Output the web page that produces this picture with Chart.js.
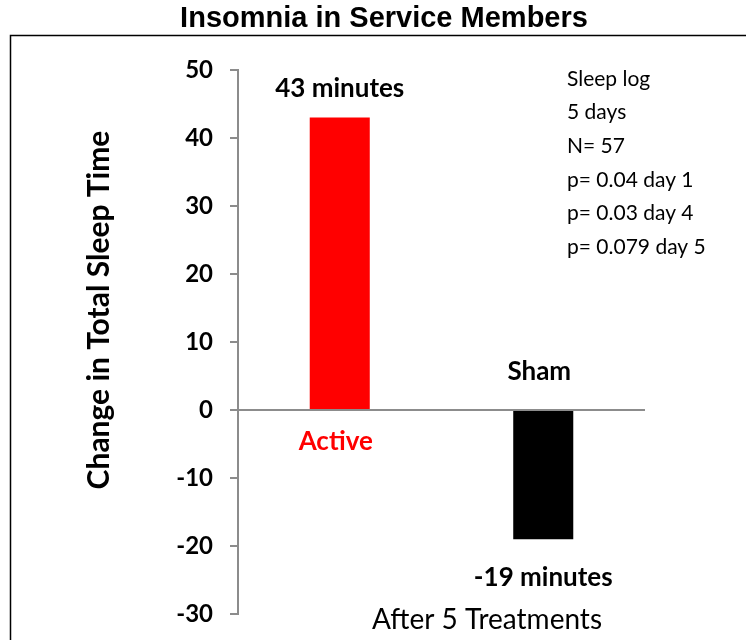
<!DOCTYPE html>
<html>
<head>
<meta charset="utf-8">
<script src="https://cdn.jsdelivr.net/npm/chart.js@4/dist/chart.umd.min.js"></script>
<style>
  html, body { margin: 0; padding: 0; background: #fff; }
  #wrap { width: 746px; height: 640px; position: relative; }
</style>
</head>
<body>
<div id="wrap"><canvas id="c" width="746" height="640"></canvas></div>
<script>
// Change in total sleep time (minutes) after 5 treatments
const groups = ['Active', 'Sham'];
const sleepChange = [43, -19];
const valueLabels = ['43 minutes', '-19 minutes'];
const barColors = ['#ff0000', '#000000'];
const groupLabelColors = ['#ff0000', '#000000'];
const yTicks = [-30, -20, -10, 0, 10, 20, 30, 40, 50];
const notes = ['Sleep log', '5 days', 'N= 57', 'p= 0.04 day 1', 'p= 0.03 day 4', 'p= 0.079 day 5'];
const chartTitle = 'Insomnia in Service Members';
const xCaption = 'After 5 Treatments';
const yCaption = 'Change in Total Sleep Time';

const AXIS_GRAY = '#8c8c8c';
const SANS = 'Lato, "Open Sans", sans-serif';

const frame = {
  id: 'frame',
  beforeDraw(chart) {
    const ctx = chart.ctx;
    ctx.save();
    ctx.fillStyle = '#fff';
    ctx.fillRect(0, 0, chart.width, chart.height);
    ctx.strokeStyle = '#000';
    ctx.lineWidth = 1.5;
    ctx.strokeRect(10.5, 35.5, chart.width + 20, chart.height + 20);
    ctx.restore();
  }
};

const annotations = {
  id: 'annotations',
  afterDatasetsDraw(chart) {
    const ctx = chart.ctx;
    const x = chart.scales.x, y = chart.scales.y;
    const zero = y.getPixelForValue(0);
    ctx.save();
    ctx.textAlign = 'center';
    ctx.textBaseline = 'middle';

    // heading
    ctx.fillStyle = '#000';
    ctx.font = 'bold 29px "Liberation Sans", Arial, sans-serif';
    ctx.fillText(chartTitle, 384, 19);

    sleepChange.forEach((v, i) => {
      const cx = x.getPixelForValue(i);
      const end = y.getPixelForValue(v);
      ctx.font = 'bold 26px ' + SANS;
      ctx.fillStyle = '#000';
      // value label beyond the bar end
      ctx.fillText(valueLabels[i], cx, v >= 0 ? end - 29 : end + 38);
      // group name on the opposite side of the zero line
      ctx.fillStyle = groupLabelColors[i];
      ctx.fillText(groups[i], cx - 4, v >= 0 ? zero + 32 : zero - 38);
    });

    // study notes
    ctx.textAlign = 'left';
    ctx.font = '21px ' + SANS;
    ctx.fillStyle = '#000';
    notes.forEach((t, i) => ctx.fillText(t, 567, 79 + i * 33.6));

    // x axis caption
    ctx.textAlign = 'center';
    ctx.font = '28px ' + SANS;
    ctx.fillText(xCaption, 487, 620);

    // y axis caption
    ctx.translate(99, 310);
    ctx.rotate(-Math.PI / 2);
    ctx.font = 'bold 30px ' + SANS;
    ctx.fillText(yCaption, 0, 0);
    ctx.restore();
  }
};

new Chart(document.getElementById('c'), {
  type: 'bar',
  data: {
    labels: groups,
    datasets: [{
      data: sleepChange,
      backgroundColor: barColors,
      borderWidth: 0,
      barPercentage: 0.295,
      categoryPercentage: 1
    }]
  },
  options: {
    responsive: false,
    animation: false,
    layout: { padding: { left: 22, right: 101, top: 70, bottom: 26 } },
    plugins: {
      legend: { display: false },
      tooltip: { enabled: false },
      title: { display: false }
    },
    scales: {
      x: { display: false },
      y: {
        min: -30,
        max: 50,
        afterBuildTicks(scale) { scale.ticks = yTicks.map(v => ({ value: v })); },
        afterFit(scale) {
          scale.width = 216;
          // plot area edges come from the layout padding alone
          scale.paddingTop = 0;
          scale.paddingBottom = 0;
        },
        border: { display: true, color: AXIS_GRAY, width: 2 },
        grid: {
          drawOnChartArea: true,
          color: c => (c.tick && c.tick.value === 0 ? AXIS_GRAY : 'rgba(0,0,0,0)'),
          lineWidth: 2,
          tickColor: AXIS_GRAY,
          tickLength: 8,
          tickWidth: 2
        },
        ticks: {
          color: '#000',
          padding: 17,
          font: { family: SANS, size: 24, weight: 'bold' }
        }
      }
    }
  },
  plugins: [frame, annotations]
});
</script>
</body>
</html>
